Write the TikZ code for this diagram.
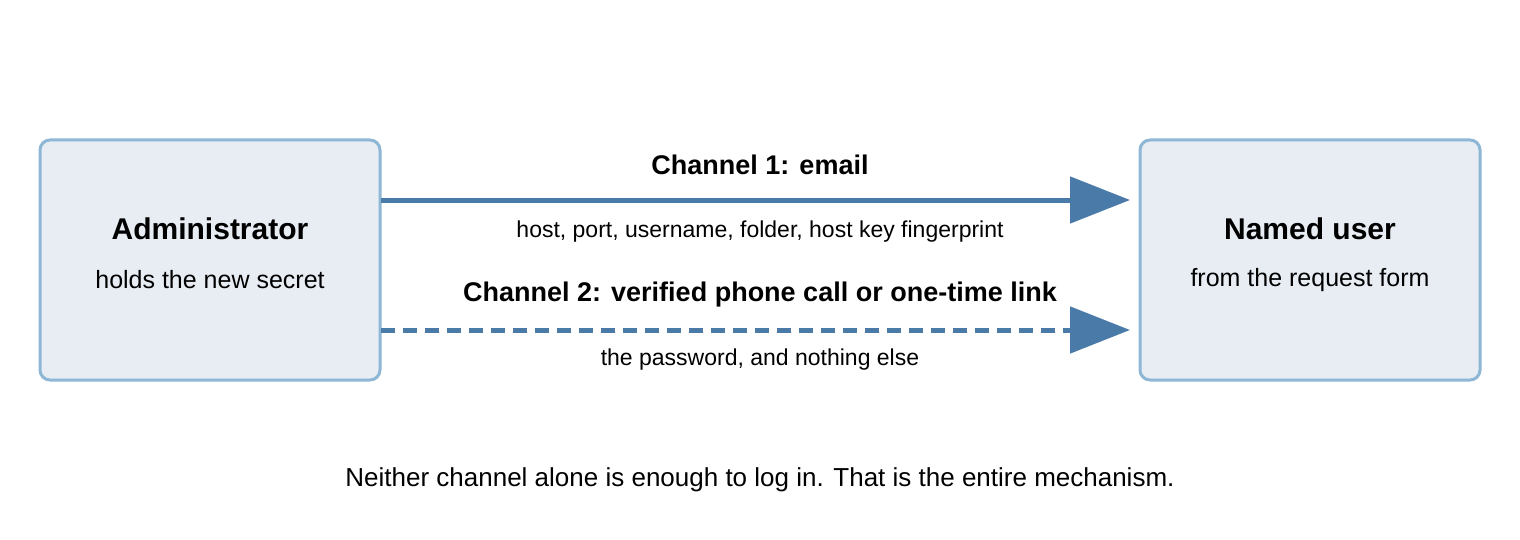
\documentclass[tikz,border=0pt]{standalone}
\usepackage{fontspec}
\setmainfont{Liberation Sans}
\usetikzlibrary{arrows.meta}
\definecolor{boxfill}{HTML}{E8EDF3}
\definecolor{boxline}{HTML}{8DB7D5}
\definecolor{arr}{HTML}{4A7AA8}
\begin{document}
\begin{tikzpicture}[x=0.5pt,y=-0.5pt,
  box/.style={draw=boxline,fill=boxfill,line width=1.5pt,rounded corners=5pt,minimum width=170pt,minimum height=120pt,inner sep=0pt},
  title/.style={font=\fontsize{15}{18}\selectfont\bfseries},
  sub/.style={font=\fontsize{12.5}{15}\selectfont},
  lab/.style={font=\fontsize{11.5}{14}\selectfont},
  chan/.style={font=\fontsize{13.5}{16}\selectfont\bfseries},
  conn/.style={draw=arr,line width=2.5pt,-{Triangle[length=30pt,width=23pt]}}]
\useasboundingbox (0,0) rectangle (1520,540);
\node[box] (admin) at (210,260) {};
\node[box] (user) at (1310,260) {};
\node[title] at (210,229) {Administrator};
\node[sub] at (210,280) {holds the new secret};
\node[title] at (1310,229) {Named user};
\node[sub] at (1310,280) {from the request form};
\coordinate (s1) at (381,200);
\coordinate (e1) at (1130,200);
\coordinate (s2) at (381,330);
\coordinate (e2) at (1130,330);
\draw[conn] (s1) -- (e1);
\draw[conn,dash pattern=on 7pt off 4pt] (s2) -- (e2);
\node[chan] at (760,165) {Channel 1: email};
\node[lab] at (760,232) {host, port, username, folder, host key fingerprint};
\node[chan] at (760,295) {Channel 2: verified phone call or one-time link};
\node[lab] at (760,360) {the password, and nothing else};
\node[font=\fontsize{13}{16}\selectfont] at (760,480) {Neither channel alone is enough to log in. That is the entire mechanism.};
\end{tikzpicture}
\end{document}
